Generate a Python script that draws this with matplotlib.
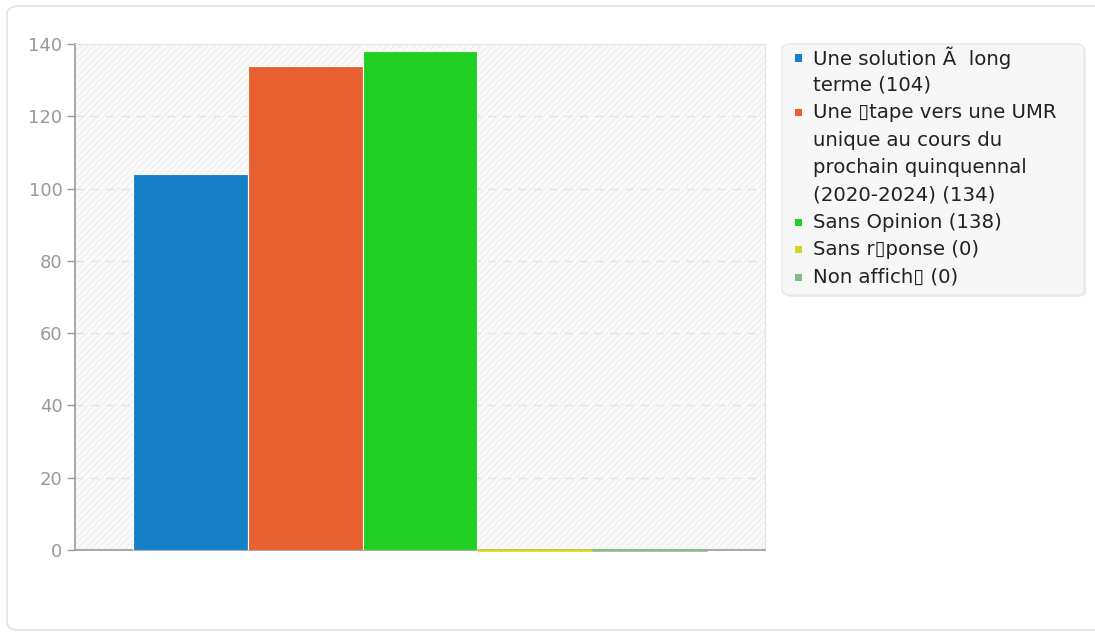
import numpy as np
import matplotlib
matplotlib.use("Agg")
import matplotlib.pyplot as plt
from matplotlib.patches import FancyBboxPatch, Rectangle

# data
labels = [
    "Une solution Ã\u00a0 long\nterme (104)",
    "Une \u25aftape vers une UMR\nunique au cours du\nprochain quinquennal\n(2020-2024) (134)",
    "Sans Opinion (138)",
    "Sans r\u25afponse (0)",
    "Non affich\u25af (0)",
]
values = [104, 134, 138, 0, 0]
colors = ["#1580c8", "#e8602f", "#20cf22", "#d6d41e", "#88bb88"]
yticks = [0, 20, 40, 60, 80, 100, 120, 140]

plt.rcParams["hatch.color"] = "#e9e9e9"
plt.rcParams["hatch.linewidth"] = 0.7

fig = plt.figure(figsize=(10.95, 6.33), dpi=100)
W, H = 1095, 633

def fx(px):
    return px / W

def fy(py):
    return 1 - py / H

# outer card
card = FancyBboxPatch((fx(7), fy(630)), 1.1, 624 / H, boxstyle="round,pad=0,rounding_size=0.012",
                      transform=fig.transFigure, facecolor="white", edgecolor="#e2e2e2",
                      linewidth=1.2, zorder=-5)
fig.patches.append(card)

ax = fig.add_axes([fx(75), fy(550), 690 / W, 506 / H])
ax.set_facecolor("#fafafa")
ax.add_patch(Rectangle((0, 0), 1, 1, transform=ax.transAxes, facecolor="none",
                       hatch="/////", edgecolor="#ebebeb", linewidth=0, zorder=0))

n = len(values)
bw = 0.8333 / n
x = -0.8333 / 2 + bw * (np.arange(n) + 0.5)
for i in range(n):
    if values[i] > 0:
        ax.bar(x[i], values[i], width=bw, color=colors[i], edgecolor="white",
               linewidth=0.8, zorder=3)
    else:
        ax.bar(x[i], values[i], width=bw, color=colors[i], edgecolor=colors[i],
               linewidth=1.8, zorder=4, clip_on=False)

ax.set_xlim(-0.5, 0.5)
ax.set_ylim(0, 140)
ax.set_yticks(yticks)
ax.set_xticks([])
ax.yaxis.grid(True, linestyle=(0, (6, 5)), color="#e2e2e2", linewidth=1, zorder=1)
ax.tick_params(axis="y", colors="#999999", labelcolor="#999999", labelsize=13,
               length=6, width=1, pad=3)
for side in ["top", "right"]:
    ax.spines[side].set_color("#e4e4e4")
for side in ["left", "bottom"]:
    ax.spines[side].set_color("#9a9a9a")
    ax.spines[side].set_linewidth(1.2)

# legend box drawn by hand so the markers sit on the first line of each entry
shadow = FancyBboxPatch((fx(784), fy(297)), 302 / W, 251 / H,
                        boxstyle="round,pad=0,rounding_size=0.008", transform=fig.transFigure,
                        facecolor="#00000012", edgecolor="none", zorder=1)
box = FancyBboxPatch((fx(782), fy(295)), 302 / W, 251 / H,
                     boxstyle="round,pad=0,rounding_size=0.008", transform=fig.transFigure,
                     facecolor="#f7f7f7", edgecolor="#e8e8e8", linewidth=1, zorder=2)
fig.patches.append(shadow)
fig.patches.append(box)

line_h = 27.4
line = 0
for lab, c in zip(labels, colors):
    y0 = 58 + line * line_h
    fig.patches.append(Rectangle((fx(795), fy(y0 + 3.5)), 7 / W, 7 / H,
                                 transform=fig.transFigure, facecolor=c,
                                 edgecolor="none", zorder=3))
    for part in lab.split("\n"):
        fig.text(fx(813), fy(58 + line * line_h), part, fontsize=14.2, color="#222222",
                 va="center", ha="left", zorder=4)
        line += 1

fig.savefig("out.png", dpi=100)
